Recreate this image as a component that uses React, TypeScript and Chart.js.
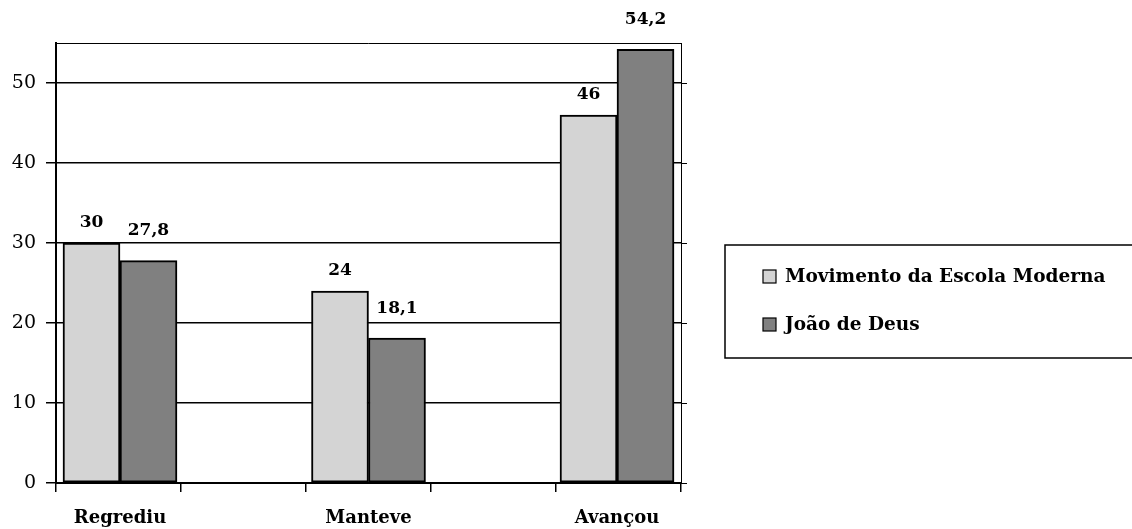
import React, { useEffect, useRef } from "react";
import { Chart, registerables } from "chart.js";

Chart.register(...registerables);

const categories = ["Regrediu", "Manteve", "Avançou"];
const seriesNames = ["Movimento da Escola Moderna", "João de Deus"];
const escolaModerna = [30, 24, 46];
const joaoDeus = [27.8, 18.1, 54.2];
const yTicks = [0, 10, 20, 30, 40, 50];

const LIGHT = "#d4d4d4";
const DARK = "#808080";
const SERIF = "'DejaVu Serif', serif";
const X_MIN = -0.2575;
const X_MAX = 2.2575;

const fmt = (v: number) => String(v).replace(".", ",");

const framePlugin = {
  id: "frame",
  afterDraw(chart: any) {
    const { ctx, chartArea: a } = chart;
    ctx.save();
    ctx.strokeStyle = "#000";
    ctx.lineWidth = 1;
    ctx.beginPath();
    ctx.moveTo(a.left, a.top + 0.5);
    ctx.lineTo(a.right + 0.5, a.top + 0.5);
    ctx.lineTo(a.right + 0.5, a.bottom);
    ctx.stroke();
    ctx.restore();
  },
};

const labelPlugin = {
  id: "valueLabels",
  afterDatasetsDraw(chart: any) {
    const { ctx } = chart;
    ctx.save();
    ctx.fillStyle = "#000";
    ctx.font = `bold 17px ${SERIF}`;
    ctx.textAlign = "center";
    ctx.textBaseline = "middle";
    chart.data.datasets.forEach((ds: any, di: number) => {
      const meta = chart.getDatasetMeta(di);
      const off = di === 0 ? 20 : 30;
      meta.data.forEach((el: any, i: number) => {
        const v = ds.data[i].y;
        ctx.fillText(fmt(v), el.x, el.y - off);
      });
    });
    ctx.restore();
  },
};

const legendPlugin = {
  id: "boxLegend",
  afterDraw(chart: any) {
    const { ctx } = chart;
    const left = 725;
    const top = 245;
    const bottom = 358;
    ctx.save();
    ctx.strokeStyle = "#000";
    ctx.lineWidth = 1.5;
    ctx.beginPath();
    ctx.moveTo(chart.width + 2, top);
    ctx.lineTo(left, top);
    ctx.lineTo(left, bottom);
    ctx.lineTo(chart.width + 2, bottom);
    ctx.stroke();
    ctx.font = `bold 18.5px ${SERIF}`;
    ctx.textBaseline = "middle";
    ctx.textAlign = "left";
    const rows = [277, 325];
    chart.data.datasets.forEach((ds: any, i: number) => {
      const cy = rows[i];
      ctx.fillStyle = ds.backgroundColor;
      ctx.fillRect(763, cy - 7, 13, 13);
      ctx.lineWidth = 1.2;
      ctx.strokeStyle = "#000";
      ctx.strokeRect(763, cy - 7, 13, 13);
      ctx.fillStyle = "#000";
      ctx.fillText(ds.label, 785, cy);
    });
    ctx.restore();
  },
};

export default function App() {
  const ref = useRef<HTMLCanvasElement>(null);

  useEffect(() => {
    if (!ref.current) return;
    const mk = (vals: number[]) => vals.map((v, i) => ({ x: i, y: v }));
    const barStyle = {
      borderColor: "#000",
      borderWidth: 2,
      borderSkipped: false,
      barThickness: 57,
    };
    const chart = new Chart(ref.current, {
      type: "bar",
      data: {
        datasets: [
          { label: seriesNames[0], data: mk(escolaModerna), backgroundColor: LIGHT, ...barStyle },
          { label: seriesNames[1], data: mk(joaoDeus), backgroundColor: DARK, ...barStyle },
        ] as any,
      },
      options: {
        animation: false,
        responsive: false,
        devicePixelRatio: 1,
        layout: { padding: { top: 43, left: 0, right: 0, bottom: 0 } },
        plugins: { legend: { display: false }, tooltip: { enabled: false } },
        scales: {
          x: {
            type: "linear",
            position: "bottom",
            offset: false,
            min: X_MIN,
            max: X_MAX,
            afterBuildTicks: (scale: any) => {
              const vals: number[] = [];
              for (let i = 0; i <= 5; i++) vals.push(X_MIN + (i * (X_MAX - X_MIN)) / 5);
              categories.forEach((_, i) => vals.push(i));
              vals.sort((a, b) => a - b);
              scale.ticks = vals.map((v) => ({ value: v }));
            },
            afterFit: (scale: any) => {
              scale.height = 46;
            },
            grid: {
              offset: false,
              drawOnChartArea: false,
              drawTicks: true,
              tickLength: 9,
              lineWidth: 1.5,
              color: (c: any) =>
                c.tick && Number.isInteger(c.tick.value) ? "rgba(0,0,0,0)" : "#000",
            },
            border: { color: "#000", width: 2 },
            ticks: {
              autoSkip: false,
              maxRotation: 0,
              padding: 16,
              color: "#000",
              font: { family: SERIF, size: 18, weight: "bold" },
              callback: (v: any) =>
                Number.isInteger(v) && categories[v] !== undefined ? categories[v] : "",
            },
          },
          y: {
            position: "left",
            min: 0,
            max: 55,
            afterBuildTicks: (scale: any) => {
              scale.ticks = yTicks.map((v) => ({ value: v }));
            },
            afterFit: (scale: any) => {
              scale.width = 56;
            },
            grid: { color: "#000", lineWidth: 1.5, tickLength: 10 },
            border: { color: "#000", width: 2 },
            ticks: {
              padding: 10,
              color: "#000",
              font: { family: SERIF, size: 19 },
            },
          },
          y2: {
            position: "right",
            min: 0,
            max: 55,
            afterBuildTicks: (scale: any) => {
              scale.ticks = yTicks.map((v) => ({ value: v }));
            },
            afterFit: (scale: any) => {
              scale.width = 1132 - 681;
            },
            grid: { drawOnChartArea: false, color: "#000", lineWidth: 1, tickLength: 6 },
            border: { color: "#000", width: 1 },
            ticks: { callback: () => "", color: "#000" },
          },
        } as any,
      },
      plugins: [framePlugin, labelPlugin, legendPlugin],
    });
    return () => chart.destroy();
  }, []);

  return (
    <div
      style={{
        position: "fixed",
        left: 0,
        top: 0,
        width: 1132,
        height: 529,
        background: "#fff",
      }}
    >
      <canvas ref={ref} width={1132} height={529} style={{ width: 1132, height: 529 }} />
    </div>
  );
}
